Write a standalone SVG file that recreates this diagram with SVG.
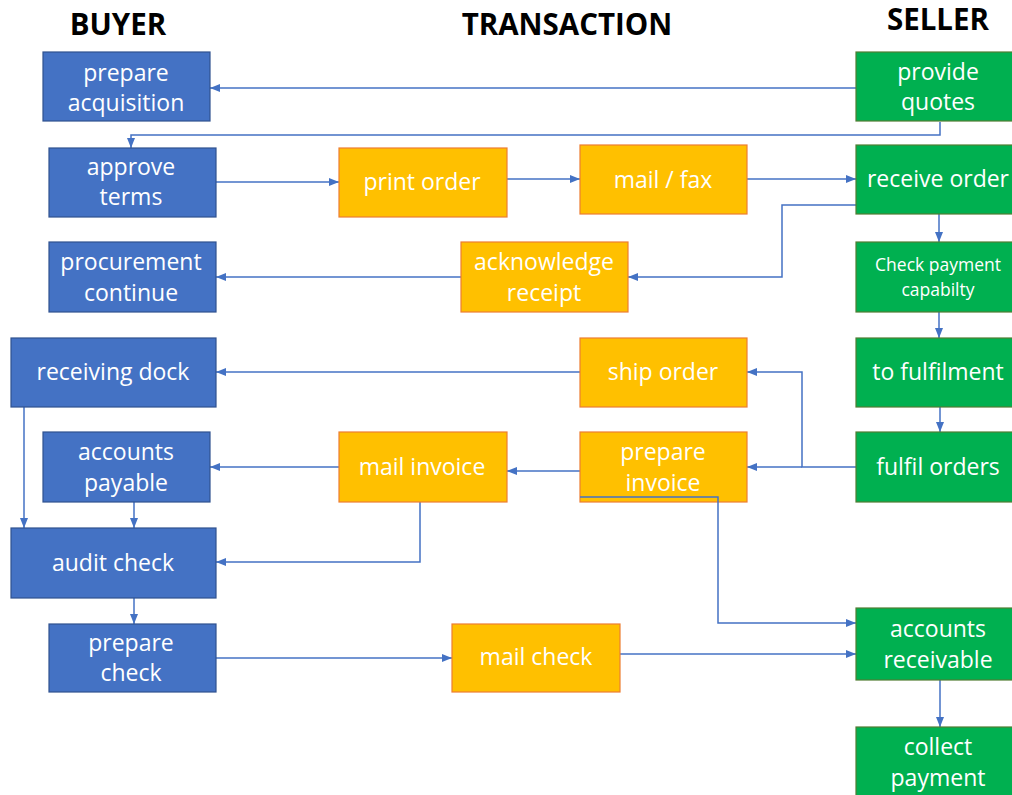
<svg xmlns="http://www.w3.org/2000/svg" width="1012" height="795" viewBox="0 0 1012 795">
<style>
.hdr{font-family:"Open Sans","Liberation Sans",sans-serif;font-weight:bold;font-size:29.5px;fill:#000;text-anchor:middle}
.t{font-family:"Open Sans","Liberation Sans",sans-serif;font-size:23px;fill:#fff;text-anchor:middle;dominant-baseline:central}
.ts{font-family:"Open Sans","Liberation Sans",sans-serif;font-size:17.5px;fill:#fff;text-anchor:middle;dominant-baseline:central}
.b{fill:#4472C4;stroke:#2F528F;stroke-width:1.2}
.o{fill:#FFC000;stroke:#ED7D31;stroke-width:1.2}
.g{fill:#00B050;stroke:#507E32;stroke-width:1.2}
.c{fill:none;stroke:#4472C4;stroke-width:1.5}
</style>
<defs>
<marker id="ah" markerUnits="userSpaceOnUse" markerWidth="10" markerHeight="10" viewBox="0 0 10 10" refX="10" refY="5" orient="auto">
<path d="M0,1 L10,5 L0,9 z" fill="#4472C4"/>
</marker>
</defs>
<g id="headers">
<text class="hdr" x="118" y="35">BUYER</text>
<text class="hdr" x="567" y="35">TRANSACTION</text>
<text class="hdr" x="938" y="30">SELLER</text>
</g>
<g id="connectors">
<path class="c" d="M856,88 H210" marker-end="url(#ah)"/>
<path class="c" d="M940,122 V135 H131 V148" marker-end="url(#ah)"/>
<path class="c" d="M216,182 H339" marker-end="url(#ah)"/>
<path class="c" d="M507,179 H580" marker-end="url(#ah)"/>
<path class="c" d="M747,179 H856" marker-end="url(#ah)"/>
<path class="c" d="M856,205 H782 V277 H628" marker-end="url(#ah)"/>
<path class="c" d="M461,277 H216" marker-end="url(#ah)"/>
<path class="c" d="M939,214 V242" marker-end="url(#ah)"/>
<path class="c" d="M939,312 V338" marker-end="url(#ah)"/>
<path class="c" d="M940,407 V432" marker-end="url(#ah)"/>
<path class="c" d="M856,467 H802 V372 H747" marker-end="url(#ah)"/>
<path class="c" d="M802,467 H747" marker-end="url(#ah)"/>
<path class="c" d="M580,372 H216" marker-end="url(#ah)"/>
<path class="c" d="M580,471 H507" marker-end="url(#ah)"/>
<path class="c" d="M339,467 H210" marker-end="url(#ah)"/>
<path class="c" d="M24,407 V528" marker-end="url(#ah)"/>
<path class="c" d="M134,502 V528" marker-end="url(#ah)"/>
<path class="c" d="M420,502 V562 H216" marker-end="url(#ah)"/>
<path class="c" d="M134,598 V624" marker-end="url(#ah)"/>
<path class="c" d="M216,658 H452" marker-end="url(#ah)"/>
<path class="c" d="M620,654 H856" marker-end="url(#ah)"/>
<path class="c" d="M940,680 V727" marker-end="url(#ah)"/>
</g>
<g id="prepare-acquisition"><rect class="b" x="43" y="52" width="167" height="69"/><text class="t" x="126" y="72">prepare</text><text class="t" x="126" y="102">acquisition</text></g>
<g id="approve-terms"><rect class="b" x="49" y="148" width="167" height="69"/><text class="t" x="131" y="166">approve</text><text class="t" x="131" y="196">terms</text></g>
<g id="procurement-continue"><rect class="b" x="49" y="242" width="167" height="70"/><text class="t" x="131" y="261">procurement</text><text class="t" x="131" y="292">continue</text></g>
<g id="receiving-dock"><rect class="b" x="11" y="338" width="205" height="69"/><text class="t" x="113" y="371">receiving dock</text></g>
<g id="accounts-payable"><rect class="b" x="43" y="432" width="167" height="70"/><text class="t" x="126" y="451">accounts</text><text class="t" x="126" y="482">payable</text></g>
<g id="audit-check"><rect class="b" x="11" y="528" width="205" height="70"/><text class="t" x="113" y="562">audit check</text></g>
<g id="prepare-check"><rect class="b" x="49" y="624" width="167" height="68"/><text class="t" x="131" y="642">prepare</text><text class="t" x="131" y="672">check</text></g>
<g id="print-order"><rect class="o" x="339" y="148" width="168" height="69"/><text class="t" x="422" y="181">print order</text></g>
<g id="mail-fax"><rect class="o" x="580" y="145" width="167" height="69"/><text class="t" x="663" y="179">mail / fax</text></g>
<g id="acknowledge-receipt"><rect class="o" x="461" y="242" width="167" height="70"/><text class="t" x="544" y="261">acknowledge</text><text class="t" x="544" y="292">receipt</text></g>
<g id="ship-order"><rect class="o" x="580" y="338" width="167" height="69"/><text class="t" x="663" y="371">ship order</text></g>
<g id="prepare-invoice"><rect class="o" x="580" y="432" width="167" height="70"/><text class="t" x="663" y="451">prepare</text><text class="t" x="663" y="482">invoice</text></g>
<g id="mail-invoice"><rect class="o" x="339" y="432" width="168" height="70"/><text class="t" x="422" y="466">mail invoice</text></g>
<g id="mail-check"><rect class="o" x="452" y="624" width="168" height="68"/><text class="t" x="536" y="656">mail check</text></g>
<path class="c" d="M580,497 H718 V623 H856" marker-end="url(#ah)"/>
<g id="provide-quotes"><rect class="g" x="856" y="52" width="164" height="69"/><text class="t" x="938" y="71">provide</text><text class="t" x="938" y="101">quotes</text></g>
<g id="receive-order"><rect class="g" x="856" y="145" width="164" height="69"/><text class="t" x="938" y="178">receive order</text></g>
<g id="check-payment"><rect class="g" x="856" y="242" width="164" height="70"/><text class="ts" x="938" y="264">Check payment</text><text class="ts" x="938" y="289">capabilty</text></g>
<g id="to-fulfilment"><rect class="g" x="856" y="338" width="164" height="69"/><text class="t" x="938" y="371">to fulfilment</text></g>
<g id="fulfil-orders"><rect class="g" x="856" y="432" width="164" height="70"/><text class="t" x="938" y="466">fulfil orders</text></g>
<g id="accounts-receivable"><rect class="g" x="856" y="608" width="164" height="72"/><text class="t" x="938" y="628">accounts</text><text class="t" x="938" y="659">receivable</text></g>
<g id="collect-payment"><rect class="g" x="856" y="727" width="164" height="75"/><text class="t" x="938" y="746">collect</text><text class="t" x="938" y="777">payment</text></g>
</svg>
